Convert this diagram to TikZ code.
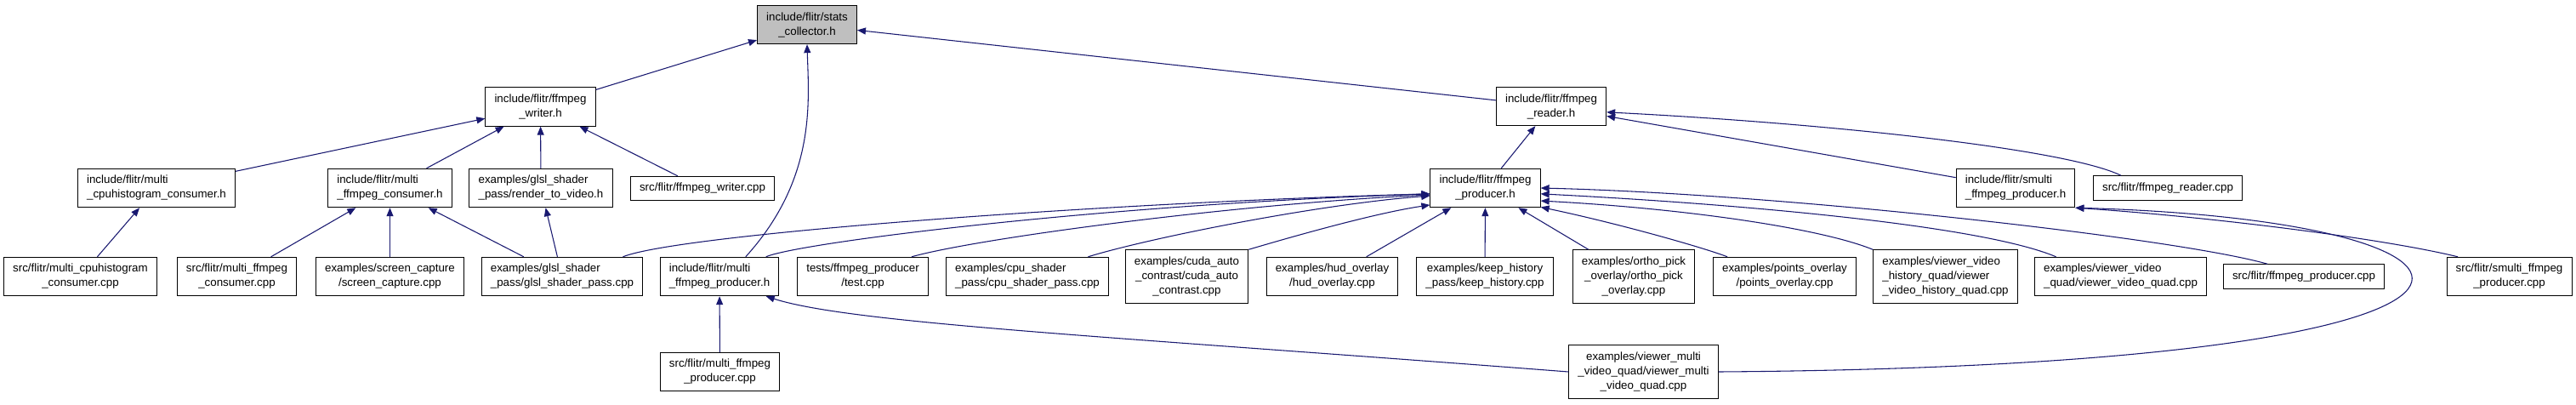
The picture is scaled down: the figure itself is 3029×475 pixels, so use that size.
\documentclass[tikz,border=0pt]{standalone}
\usepackage{fontspec}
\setmainfont{Liberation Sans}
\usetikzlibrary{arrows.meta}
\definecolor{edgeblue}{HTML}{191970}
\definecolor{rootgray}{HTML}{BFBFBF}
\tikzstyle{incfile} = [draw=black, line width=0.75pt, fill=white, inner xsep=8pt, inner ysep=6pt, font=\fontsize{10}{12.75}\selectfont, align=center]
\tikzstyle{leftfile} = [incfile, align=left]
\tikzstyle{rootfile} = [incfile, fill=rootgray]
\tikzstyle{depedge} = [edgeblue, line width=0.8pt, -{Triangle[length=7.5pt,width=6pt]}]

\begin{document}
\begin{tikzpicture}[x=0.75pt,y=-0.75pt]
	\useasboundingbox (0,0) rectangle (3029,475);
	
	\node[rootfile] (stats) at (949,29) {include/flitr/stats\\\_collector.h};
	
	\node[incfile] (writer) at (635.5,125.5) {include/flitr/ffmpeg\\\_writer.h};
	\node[incfile] (reader) at (1824,125) {include/flitr/ffmpeg\\\_reader.h};
	
	\node[leftfile] (mcch) at (184,221) {include/flitr/multi\\\_cpuhistogram\_consumer.h};
	\node[leftfile] (mfch) at (458.5,221) {include/flitr/multi\\\_ffmpeg\_consumer.h};
	\node[leftfile] (rtvh) at (636,221) {examples/glsl\_shader\\\_pass/render\_to\_video.h};
	\node[incfile] (fwcpp) at (826,221.5) {src/flitr/ffmpeg\_writer.cpp};
	\node[incfile] (fph) at (1746.5,221) {include/flitr/ffmpeg\\\_producer.h};
	\node[leftfile] (smph) at (2370,221) {include/flitr/smulti\\\_ffmpeg\_producer.h};
	\node[incfile] (frcpp) at (2549,221) {src/flitr/ffmpeg\_reader.cpp};
	
	\node[incfile] (mcccpp) at (94.5,325) {src/flitr/multi\_cpuhistogram\\\_consumer.cpp};
	\node[incfile] (mfccpp) at (278.5,325) {src/flitr/multi\_ffmpeg\\\_consumer.cpp};
	\node[incfile] (sccpp) at (458.5,325) {examples/screen\_capture\\/screen\_capture.cpp};
	\node[leftfile] (gspcpp) at (661,325) {examples/glsl\_shader\\\_pass/glsl\_shader\_pass.cpp};
	\node[leftfile] (mfph) at (846,325) {include/flitr/multi\\\_ffmpeg\_producer.h};
	\node[incfile] (testcpp) at (1014.5,325) {tests/ffmpeg\_producer\\/test.cpp};
	\node[leftfile] (cspcpp) at (1208,325) {examples/cpu\_shader\\\_pass/cpu\_shader\_pass.cpp};
	\node[incfile] (cudacpp) at (1395.5,325) {examples/cuda\_auto\\\_contrast/cuda\_auto\\\_contrast.cpp};
	\node[incfile] (hudcpp) at (1566.5,325) {examples/hud\_overlay\\/hud\_overlay.cpp};
	\node[incfile] (khcpp) at (1746,325) {examples/keep\_history\\\_pass/keep\_history.cpp};
	\node[incfile] (opcpp) at (1921,325) {examples/ortho\_pick\\\_overlay/ortho\_pick\\\_overlay.cpp};
	\node[incfile] (pocpp) at (2098.5,325) {examples/points\_overlay\\/points\_overlay.cpp};
	\node[leftfile] (vvhqcpp) at (2287.5,325) {examples/viewer\_video\\\_history\_quad/viewer\\\_video\_history\_quad.cpp};
	\node[leftfile] (vvqcpp) at (2493.5,325) {examples/viewer\_video\\\_quad/viewer\_video\_quad.cpp};
	\node[incfile] (fpcpp) at (2709,325) {src/flitr/ffmpeg\_producer.cpp};
	\node[incfile] (smpcpp) at (2950.5,325) {src/flitr/smulti\_ffmpeg\\\_producer.cpp};
	
	\node[incfile] (mfpcpp) at (846.5,437) {src/flitr/multi\_ffmpeg\\\_producer.cpp};
	\node[incfile] (vmvqcpp) at (1932.5,437) {examples/viewer\_multi\\\_video\_quad/viewer\_multi\\\_video\_quad.cpp};
	
	\draw[depedge] (writer) -- (stats);
	\draw[depedge] (reader) -- (stats);
	\draw[depedge] (mfph.37) .. controls (960,210) and (951,120) .. (stats.south);
	
	\draw[depedge] (mcch) -- (writer);
	\draw[depedge] (mfch) -- (writer);
	\draw[depedge] (rtvh) -- (writer);
	\draw[depedge] (fwcpp) -- (writer);
	\draw[depedge] (mcccpp) -- (mcch);
	\draw[depedge] (mfccpp) -- (mfch);
	\draw[depedge] (sccpp) -- (mfch);
	\draw[depedge] (gspcpp) -- (mfch);
	\draw[depedge] (gspcpp) -- (rtvh);
	
	\draw[depedge] (fph) -- (reader);
	\draw[depedge] (smph) -- (reader);
	\draw[depedge] (frcpp.165) .. controls (2430,175) and (2150,145) .. (reader.-6);
	
	\draw[depedge] (gspcpp.18) .. controls (800,275) and (1300,238) .. (fph.186);
	\draw[depedge] (mfph.23) .. controls (940,285) and (1300,240) .. (fph.186);
	\draw[depedge] (testcpp.22) .. controls (1150,280) and (1450,240) .. (fph.187);
	\draw[depedge] (cspcpp.18) .. controls (1350,280) and (1550,240) .. (fph.188);
	\draw[depedge] (cudacpp.north east) .. controls (1530,275) and (1620,250) .. (fph.197);
	\draw[depedge] (hudcpp) -- (fph);
	\draw[depedge] (khcpp) -- (fph);
	\draw[depedge] (opcpp) -- (fph);
	\draw[depedge] (pocpp.161) .. controls (2000,290) and (1900,262) .. (fph.-19);
	\draw[depedge] (vvhqcpp.north west) .. controls (2140,268) and (1980,245) .. (fph.-13);
	\draw[depedge] (vvqcpp.163) .. controls (2330,265) and (2050,240) .. (fph.-6);
	\draw[depedge] (fpcpp.161) .. controls (2560,280) and (2100,228) .. (fph.east);
	
	\draw[depedge] (smpcpp.159) .. controls (2800,280) and (2600,255) .. (smph.south east);
	\draw[depedge] (vmvqcpp.east) .. controls (3050,430) and (3000,260) .. (smph.south east);
	
	\draw[depedge] (mfpcpp) -- (mfph);
	\draw[depedge] (vmvqcpp.west) .. controls (1300,395) and (1000,380) .. (mfph.-23);
\end{tikzpicture}
\end{document}
